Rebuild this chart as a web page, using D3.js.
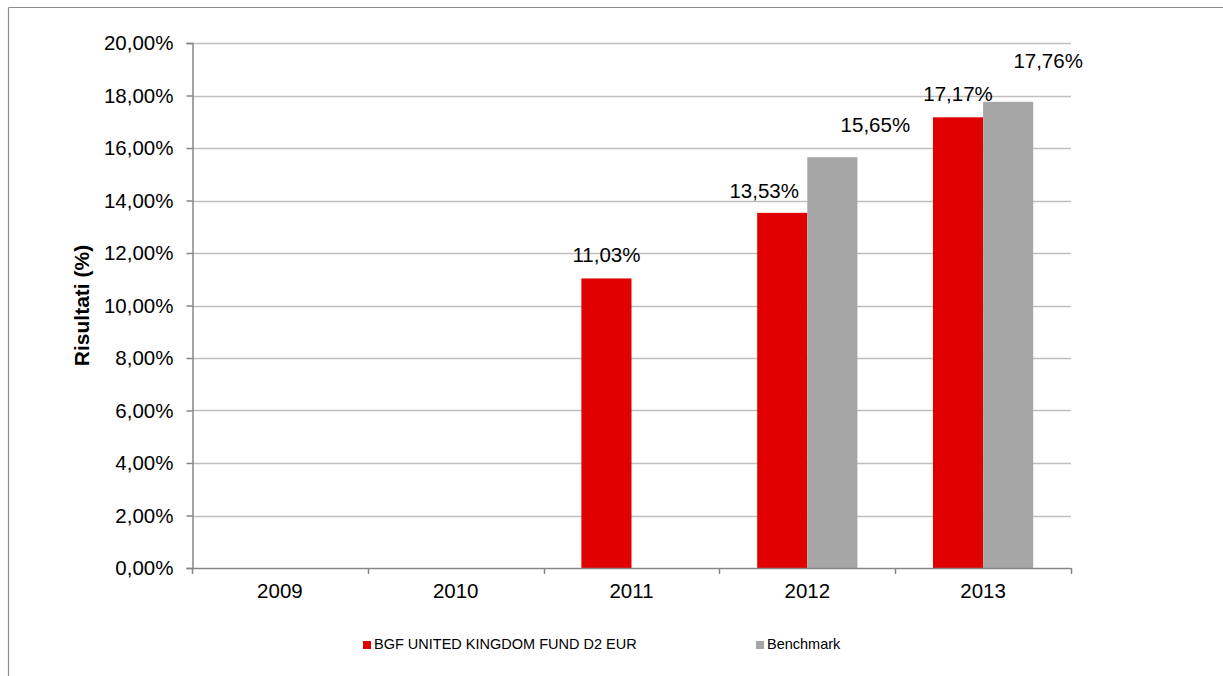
<!DOCTYPE html>
<html>
<head>
<meta charset="utf-8">
<script src="https://cdn.jsdelivr.net/npm/d3@7/dist/d3.min.js"></script>
<style>
  html, body { margin: 0; padding: 0; background: #ffffff; }
  svg { display: block; font-family: "Liberation Sans", Arial, sans-serif; }
</style>
</head>
<body>
<svg id="chart" width="1223" height="676"></svg>
<script>
// ---- data ----
const categories = ["2009", "2010", "2011", "2012", "2013"];
const fundValues = [null, null, 11.03, 13.53, 17.17];
const benchmarkValues = [null, null, null, 15.65, 17.76];
const seriesNames = ["BGF UNITED KINGDOM FUND D2 EUR", "Benchmark"];
const yTicks = [0, 2, 4, 6, 8, 10, 12, 14, 16, 18, 20];
const yTitle = "Risultati (%)";

// ---- layout / style ----
const colors = ["#e00000", "#a6a6a6"];
const plot = { left: 192, right: 1071, top: 43, bottom: 568 };
const fmt = v => v.toFixed(2).replace(".", ",") + "%";

const svg = d3.select("#chart");

// outer frame (top and left edges)
svg.append("line").attr("x1", 8.5).attr("x2", 1223).attr("y1", 7.5).attr("y2", 7.5)
  .attr("stroke", "#8c8c8c").attr("stroke-width", 1.2);
svg.append("line").attr("x1", 8.5).attr("x2", 8.5).attr("y1", 7.5).attr("y2", 676)
  .attr("stroke", "#8c8c8c").attr("stroke-width", 1.2);

const x = d3.scaleBand().domain(categories).range([plot.left, plot.right]).paddingInner(0).paddingOuter(0);
const y = d3.scaleLinear().domain([0, 20]).range([plot.bottom, plot.top]);

const barW = x.bandwidth() * 0.285;

// gridlines
svg.append("g").selectAll("line").data(yTicks.filter(t => t > 0)).join("line")
  .attr("x1", plot.left).attr("x2", plot.right)
  .attr("y1", d => Math.round(y(d)) + 0.5).attr("y2", d => Math.round(y(d)) + 0.5)
  .attr("stroke", "#bfbfbf").attr("stroke-width", 1.3);

// bars
const series = [fundValues, benchmarkValues];
series.forEach((vals, si) => {
  svg.append("g").selectAll("rect")
    .data(categories.map((c, i) => ({ c, v: vals[i] })).filter(d => d.v != null))
    .join("rect")
    .attr("x", d => x(d.c) + x.bandwidth() / 2 - barW + si * barW)
    .attr("width", barW)
    .attr("y", d => y(d.v))
    .attr("height", d => y(0) - y(d.v))
    .attr("fill", colors[si]);
});

// y axis
const yAxis = d3.axisLeft(y).tickValues(yTicks).tickSize(6).tickPadding(13).tickFormat(fmt);
const gy = svg.append("g").attr("transform", `translate(${plot.left + 0.5},0)`).call(yAxis);
gy.select(".domain").attr("stroke", "#868686").attr("stroke-width", 1.5);
gy.selectAll(".tick line").attr("stroke", "#868686").attr("stroke-width", 1.5);
gy.selectAll(".tick text").attr("font-size", "20.5px").attr("fill", "#000")
  .attr("font-family", "Liberation Sans, Arial, sans-serif");

// x axis
const xAxis = d3.axisBottom(x).tickSize(0).tickPadding(15);
const gx = svg.append("g").attr("transform", `translate(0,${plot.bottom + 0.5})`).call(xAxis);
gx.select(".domain").attr("stroke", "#868686").attr("stroke-width", 1.5).attr("d", `M${plot.left},0H${plot.right}`);
gx.selectAll(".tick text").attr("font-size", "20.5px").attr("fill", "#000")
  .attr("font-family", "Liberation Sans, Arial, sans-serif").attr("dy", "0.71em");
// category boundary ticks
const bounds = categories.map(c => x(c)).concat([plot.right]);
svg.append("g").selectAll("line").data(bounds).join("line")
  .attr("x1", d => Math.round(d) + 0.5).attr("x2", d => Math.round(d) + 0.5)
  .attr("y1", plot.bottom).attr("y2", plot.bottom + 6)
  .attr("stroke", "#868686").attr("stroke-width", 1.5);

// y title
svg.append("text")
  .attr("transform", `translate(89,${(plot.top + plot.bottom) / 2}) rotate(-90)`)
  .attr("text-anchor", "middle")
  .attr("font-size", "21px").attr("font-weight", "bold").attr("fill", "#000")
  .text(yTitle);

// data labels (manual nudges as in the original)
const labelNudge = [
  [null, null, [0, 16], [-18, 15], [0, 16]],
  [null, null, null, [43, 25], [40, 34]]
];
series.forEach((vals, si) => {
  vals.forEach((v, i) => {
    if (v == null) return;
    const cx = x(categories[i]) + x.bandwidth() / 2 - barW + si * barW + barW / 2;
    const [dx, dy] = labelNudge[si][i];
    svg.append("text")
      .attr("x", cx + dx).attr("y", y(v) - dy)
      .attr("text-anchor", "middle")
      .attr("font-size", "20.5px").attr("fill", "#000")
      .text(fmt(v));
  });
});

// legend
const legendX = [363, 756];
seriesNames.forEach((name, si) => {
  const g = svg.append("g").attr("transform", `translate(${legendX[si]},641)`);
  g.append("rect").attr("width", 8).attr("height", 8).attr("fill", colors[si]);
  g.append("text").attr("x", 11).attr("y", 7.5)
    .attr("font-size", "14.5px").attr("fill", "#000").text(name);
});
</script>
</body>
</html>
